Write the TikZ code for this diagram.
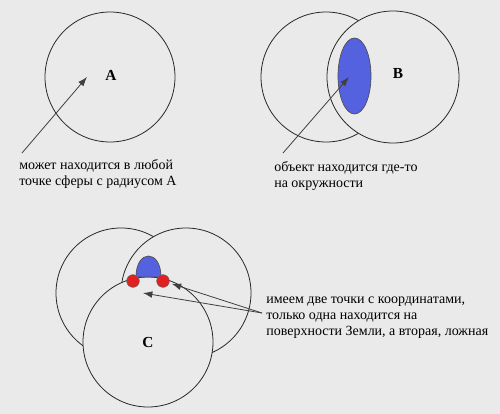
\documentclass[tikz,border=0pt]{standalone}
\usepackage{fontspec}
\setmainfont{Liberation Serif}
\usetikzlibrary{arrows.meta}

\definecolor{paper}{RGB}{234,234,234}
\definecolor{spotblue}{RGB}{85,98,224}
\definecolor{dotred}{RGB}{226,32,32}

\begin{document}
\begin{tikzpicture}[x=0.75pt,y=0.75pt,yscale=-1,
  sphere/.style={draw=black!85, line width=0.6pt, fill=paper},
  pointer/.style={draw=black!75, line width=0.6pt, -{Latex[length=7pt,width=5pt]}},
  caption/.style={anchor=north west, inner sep=0pt, align=left, font=\fontsize{10.5}{12}\selectfont},
  letter/.style={inner sep=0pt, font=\fontsize{11.5}{13}\selectfont\bfseries},
  reddot/.style={circle, draw=black!60, line width=0.4pt, fill=dotred, inner sep=0pt, minimum size=9.5pt}]

\fill[paper] (0,0) rectangle (500,414);
\useasboundingbox (0,0) rectangle (500,414);

% Group A
\draw[sphere] (110,77) circle (65);
\node[letter] (lblA) at (111,75) {A};
\coordinate (tipA) at (87,77);
\coordinate (tailA) at (22,153);
\draw[pointer] (tailA) -- (tipA);
% Text Node
\node[caption] (txtA) at (19,157.8) {\strut может находится в любой\\точке сферы с радиусом А};

% Group B
\draw[sphere] (326,77) circle (65);
\draw[sphere] (393,77) circle (66);
\draw[draw=black!70, line width=0.5pt, fill=spotblue] (354.5,76) ellipse [x radius=16.5, y radius=38];
\node[letter] (lblB) at (398,74) {B};
\coordinate (tipB) at (349,77);
\coordinate (tailB) at (283,153);
\draw[pointer] (tailB) -- (tipB);
% Text Node
\node[caption] (txtB) at (274,159.8) {\strut объект находится где-то\\на окружности};

% Group C
\draw[sphere] (121,293) circle (65);
\draw[sphere] (186,293) circle (65);
\draw[sphere] (148,342) circle (65);
\draw[draw=black!70, line width=0.5pt, fill=spotblue] (136,277) .. controls (136,249) and (161,249) .. (161,277) -- cycle;
\node[reddot] (dotL) at (133,281) {};
\node[reddot] (dotR) at (163,281) {};
\node[letter] (lblC) at (148,342) {C};
\coordinate (tailC) at (262,313);
\coordinate (tipC) at (143,293);
\draw[pointer, shorten >=2pt] (tailC) -- (dotR);
\draw[pointer] (tailC) -- (tipC);
% Text Node
\node[caption] (txtC) at (266,291.8) {\strut имеем две точки с координатами,\\только одна находится на\\поверхности Земли, а вторая, ложная};

\end{tikzpicture}
\end{document}
